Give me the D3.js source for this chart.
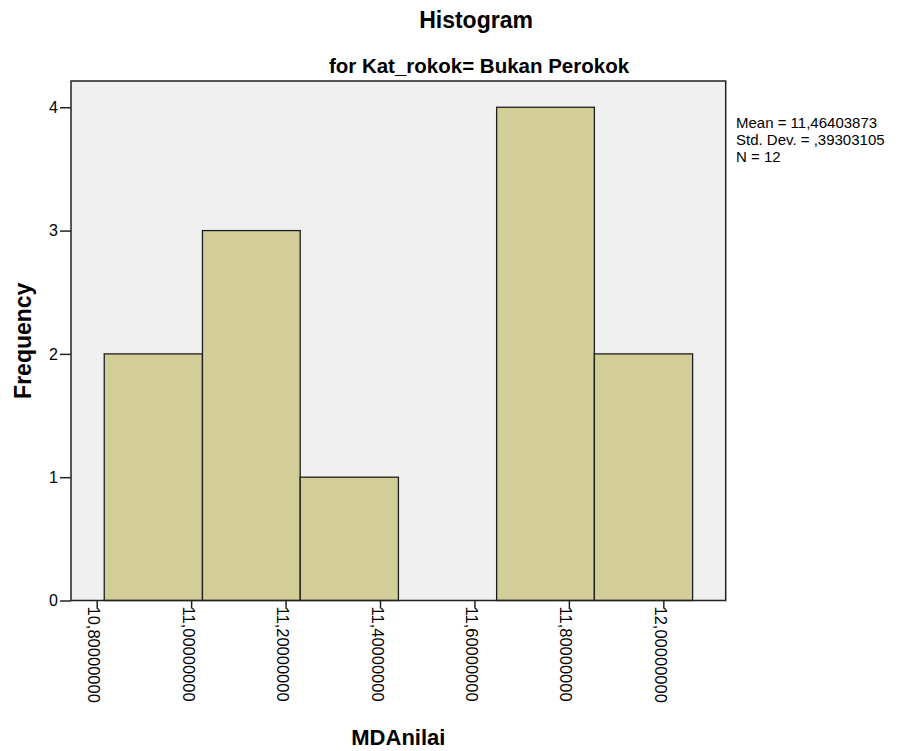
<!DOCTYPE html>
<html>
<head>
<meta charset="utf-8">
<script src="https://cdnjs.cloudflare.com/ajax/libs/d3/7.8.5/d3.min.js"></script>
<style>
  body { margin: 0; background: #fff; }
  text { font-family: "Liberation Sans", Arial, sans-serif; fill: #000; }
</style>
</head>
<body>
<div id="chart-area"></div>
<script>
// histogram bins (edges) and counts
var binEdges = [10.816, 11.024, 11.231, 11.439, 11.647, 11.854, 12.062];
var counts = [2, 3, 1, 0, 4, 2];
var xTicks = [10.8, 11.0, 11.2, 11.4, 11.6, 11.8, 12.0];
var yTicks = [0, 1, 2, 3, 4];
var statsLines = ['Mean = 11,46403873', 'Std. Dev. = ,39303105', 'N = 12'];

var bins = counts.map(function(c, i) {
  return { x0: binEdges[i], x1: binEdges[i + 1], count: c };
});

var W = 909, H = 751;
var plot = { left: 71, right: 725.7, top: 81, bottom: 600.5 };

var svg = d3.select('#chart-area').append('svg')
  .attr('width', W)
  .attr('height', H);

//x scale
var x = d3.scaleLinear()
  .domain([10.7456, 12.1321])
  .range([plot.left, plot.right]);

//y scale
var y = d3.scaleLinear()
  .domain([0, 4.213])
  .range([plot.bottom, plot.top]);

//plot background
svg.append('rect')
  .attr('x', plot.left)
  .attr('y', plot.top)
  .attr('width', plot.right - plot.left)
  .attr('height', plot.bottom - plot.top)
  .attr('fill', '#f0f0f0');

//bars
svg.selectAll('rect.bar')
  .data(bins.filter(function(d) { return d.count > 0; }))
  .enter()
  .append('rect')
  .attr('class', 'bar')
  .attr('x', function(d) { return x(d.x0); })
  .attr('width', function(d) { return x(d.x1) - x(d.x0); })
  .attr('y', function(d) { return y(d.count); })
  .attr('height', function(d) { return y(0) - y(d.count); })
  .attr('fill', '#d3ce98')
  .attr('stroke', '#1e1e1e')
  .attr('stroke-width', 1.3);

//frame
svg.append('rect')
  .attr('x', plot.left)
  .attr('y', plot.top)
  .attr('width', plot.right - plot.left)
  .attr('height', plot.bottom - plot.top)
  .attr('fill', 'none')
  .attr('stroke', '#222')
  .attr('stroke-width', 1.5);

//x axis
var xAxisCall = d3.axisBottom(x)
  .tickValues(xTicks)
  .tickSize(8)
  .tickSizeOuter(0)
  .tickFormat(function(d) { return d.toFixed(8).replace('.', ','); });

var xaxisGroup = svg.append('g')
  .attr('class', 'x-axis')
  .attr('transform', 'translate(0,' + plot.bottom + ')')
  .call(xAxisCall);

xaxisGroup.select('.domain').remove();
xaxisGroup.selectAll('line').attr('stroke', '#222').attr('stroke-width', 1.5);
xaxisGroup.selectAll('text')
  .attr('transform', 'rotate(90)')
  .attr('x', 6)
  .attr('y', 9)
  .attr('dy', 0)
  .attr('text-anchor', 'start')
  .attr('font-size', '16.5px')
  .attr('font-family', '"Liberation Sans", Arial, sans-serif')
  .attr('fill', '#000');

//y axis
var yAxisCall = d3.axisLeft(y)
  .tickValues(yTicks)
  .tickSize(11)
  .tickSizeOuter(0)
  .tickPadding(2)
  .tickFormat(d3.format('d'));

var yaxisGroup = svg.append('g')
  .attr('class', 'y-axis')
  .attr('transform', 'translate(' + plot.left + ',0)')
  .call(yAxisCall);

yaxisGroup.select('.domain').remove();
yaxisGroup.selectAll('line').attr('stroke', '#222').attr('stroke-width', 1.5);
yaxisGroup.selectAll('text')
  .attr('font-size', '16px')
  .attr('font-family', '"Liberation Sans", Arial, sans-serif')
  .attr('fill', '#000');

//titles
svg.append('text')
  .attr('x', 476)
  .attr('y', 28)
  .attr('font-size', '23px')
  .attr('font-weight', 'bold')
  .attr('text-anchor', 'middle')
  .text('Histogram');

svg.append('text')
  .attr('x', 479)
  .attr('y', 73)
  .attr('font-size', '20.5px')
  .attr('font-weight', 'bold')
  .attr('text-anchor', 'middle')
  .text('for Kat_rokok= Bukan Perokok');

//x label
svg.append('text')
  .attr('x', (plot.left + plot.right) / 2)
  .attr('y', 745)
  .attr('font-size', '22px')
  .attr('font-weight', 'bold')
  .attr('text-anchor', 'middle')
  .text('MDAnilai');

//y label
svg.append('text')
  .attr('transform', 'translate(31,' + (plot.top + plot.bottom) / 2 + ') rotate(-90)')
  .attr('font-size', '23px')
  .attr('font-weight', 'bold')
  .attr('text-anchor', 'middle')
  .text('Frequency');

//stats box
svg.append('g')
  .selectAll('text')
  .data(statsLines)
  .enter()
  .append('text')
  .attr('x', 736)
  .attr('y', function(d, i) { return 128 + i * 16.8; })
  .attr('font-size', '15px')
  .text(function(d) { return d; });
</script>
</body>
</html>
